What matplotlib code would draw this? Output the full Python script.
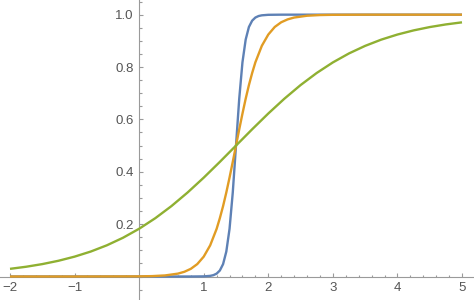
import matplotlib
matplotlib.use("Agg")
import matplotlib.pyplot as plt
from matplotlib.ticker import MultipleLocator, FixedLocator, FuncFormatter

# Blue curve (steep)
blue_x = [-2.2, 0.0, 0.8, 1.0, 1.1, 1.15, 1.2, 1.25, 1.3, 1.35, 1.4, 1.45, 1.5,
          1.55, 1.6, 1.65, 1.7, 1.75, 1.8, 1.85, 1.9, 2.0, 2.2, 3.0, 5.0]
blue_y = [0.0, 0.0, 0.00003, 0.00055, 0.00247, 0.0052, 0.0110, 0.0230, 0.0474, 0.0953,
          0.182, 0.321, 0.5, 0.679, 0.818, 0.905, 0.953, 0.977, 0.989, 0.9948,
          0.9975, 0.99945, 0.99997, 1.0, 1.0]

# Orange curve (medium)
orange_x = [-2.2, -1.0, 0.0, 0.2, 0.4, 0.6, 0.7, 0.8, 0.9, 1.0, 1.1, 1.2, 1.25, 1.3,
            1.35, 1.4, 1.45, 1.5, 1.55, 1.6, 1.65, 1.7, 1.75, 1.8, 1.9, 2.0, 2.1,
            2.2, 2.3, 2.4, 2.6, 2.8, 3.0, 3.5, 5.0]
orange_y = [0.0, 0.0, 0.00055, 0.0015, 0.0041, 0.0110, 0.0180, 0.0293, 0.0474, 0.0759,
            0.119, 0.182, 0.223, 0.269, 0.321, 0.378, 0.438, 0.5, 0.562, 0.622,
            0.679, 0.731, 0.777, 0.818, 0.881, 0.924, 0.953, 0.971, 0.982, 0.989,
            0.9959, 0.9985, 0.99945, 0.99997, 1.0]

# Green curve (gentle)
green_x = [-2.0, -1.75, -1.5, -1.25, -1.0, -0.75, -0.5, -0.25, 0.0, 0.25, 0.5, 0.75,
           1.0, 1.25, 1.5, 1.75, 2.0, 2.25, 2.5, 2.75, 3.0, 3.25, 3.5, 3.75, 4.0,
           4.25, 4.5, 4.75, 5.0]
green_y = [0.0293, 0.0373, 0.0474, 0.0601, 0.0759, 0.0953, 0.1192, 0.148, 0.1824,
           0.2227, 0.2689, 0.3208, 0.3775, 0.4378, 0.5, 0.5622, 0.6225, 0.6792,
           0.7311, 0.7773, 0.8176, 0.852, 0.8808, 0.9047, 0.9241, 0.9399, 0.9526,
           0.9627, 0.9707]

x_ticks = [-2, -1, 1, 2, 3, 4, 5]
y_ticks = [0.2, 0.4, 0.6, 0.8, 1.0]

plt.rcParams['font.family'] = ['Liberation Sans', 'DejaVu Sans']

fig = plt.figure(figsize=(4.74, 3.0), dpi=100)
ax = fig.add_axes([0, 0, 1, 1])

clip_x0, clip_x1 = -2.0, 5.0
ax.plot(blue_x, blue_y, color='#5E81B5', lw=1.7, zorder=3, solid_capstyle='butt')
ax.plot(orange_x, orange_y, color='#E19C24', lw=1.7, zorder=4, solid_capstyle='butt')
ax.plot(green_x, green_y, color='#8FB032', lw=1.7, zorder=5, solid_capstyle='butt')
for ln in ax.lines[:2]:
    import matplotlib.patches as mp
    rect = mp.Rectangle((clip_x0, -1), clip_x1 - clip_x0, 3, transform=ax.transData)
    ln.set_clip_path(rect)

ax.set_xlim(-2.155, 5.186)
ax.set_ylim(-0.0897, 1.056)

for s in ['top', 'right']:
    ax.spines[s].set_visible(False)
ax.spines['left'].set_position(('data', 0))
ax.spines['bottom'].set_position(('data', 0))
for s in ['left', 'bottom']:
    ax.spines[s].set_color('#9a9a9a')
    ax.spines[s].set_linewidth(0.8)

ax.xaxis.set_major_locator(FixedLocator(x_ticks))
ax.yaxis.set_major_locator(FixedLocator(y_ticks))
ax.xaxis.set_minor_locator(MultipleLocator(0.2))
ax.yaxis.set_minor_locator(MultipleLocator(0.05))
ax.xaxis.set_major_formatter(FuncFormatter(lambda v, p: f"{int(round(v))}".replace('-', '\u2212')))
ax.yaxis.set_major_formatter(FuncFormatter(lambda v, p: f"{v:.1f}"))

ax.tick_params(which='both', direction='in', colors='#9a9a9a', labelcolor='#555555',
               labelsize=9.5, width=0.8)
ax.tick_params(which='major', length=3.2)
ax.tick_params(which='minor', length=1.8)
ax.tick_params(axis='x', pad=4)
ax.tick_params(axis='y', pad=4)
ax.patch.set_visible(False)

fig.savefig('out.png', dpi=100)
